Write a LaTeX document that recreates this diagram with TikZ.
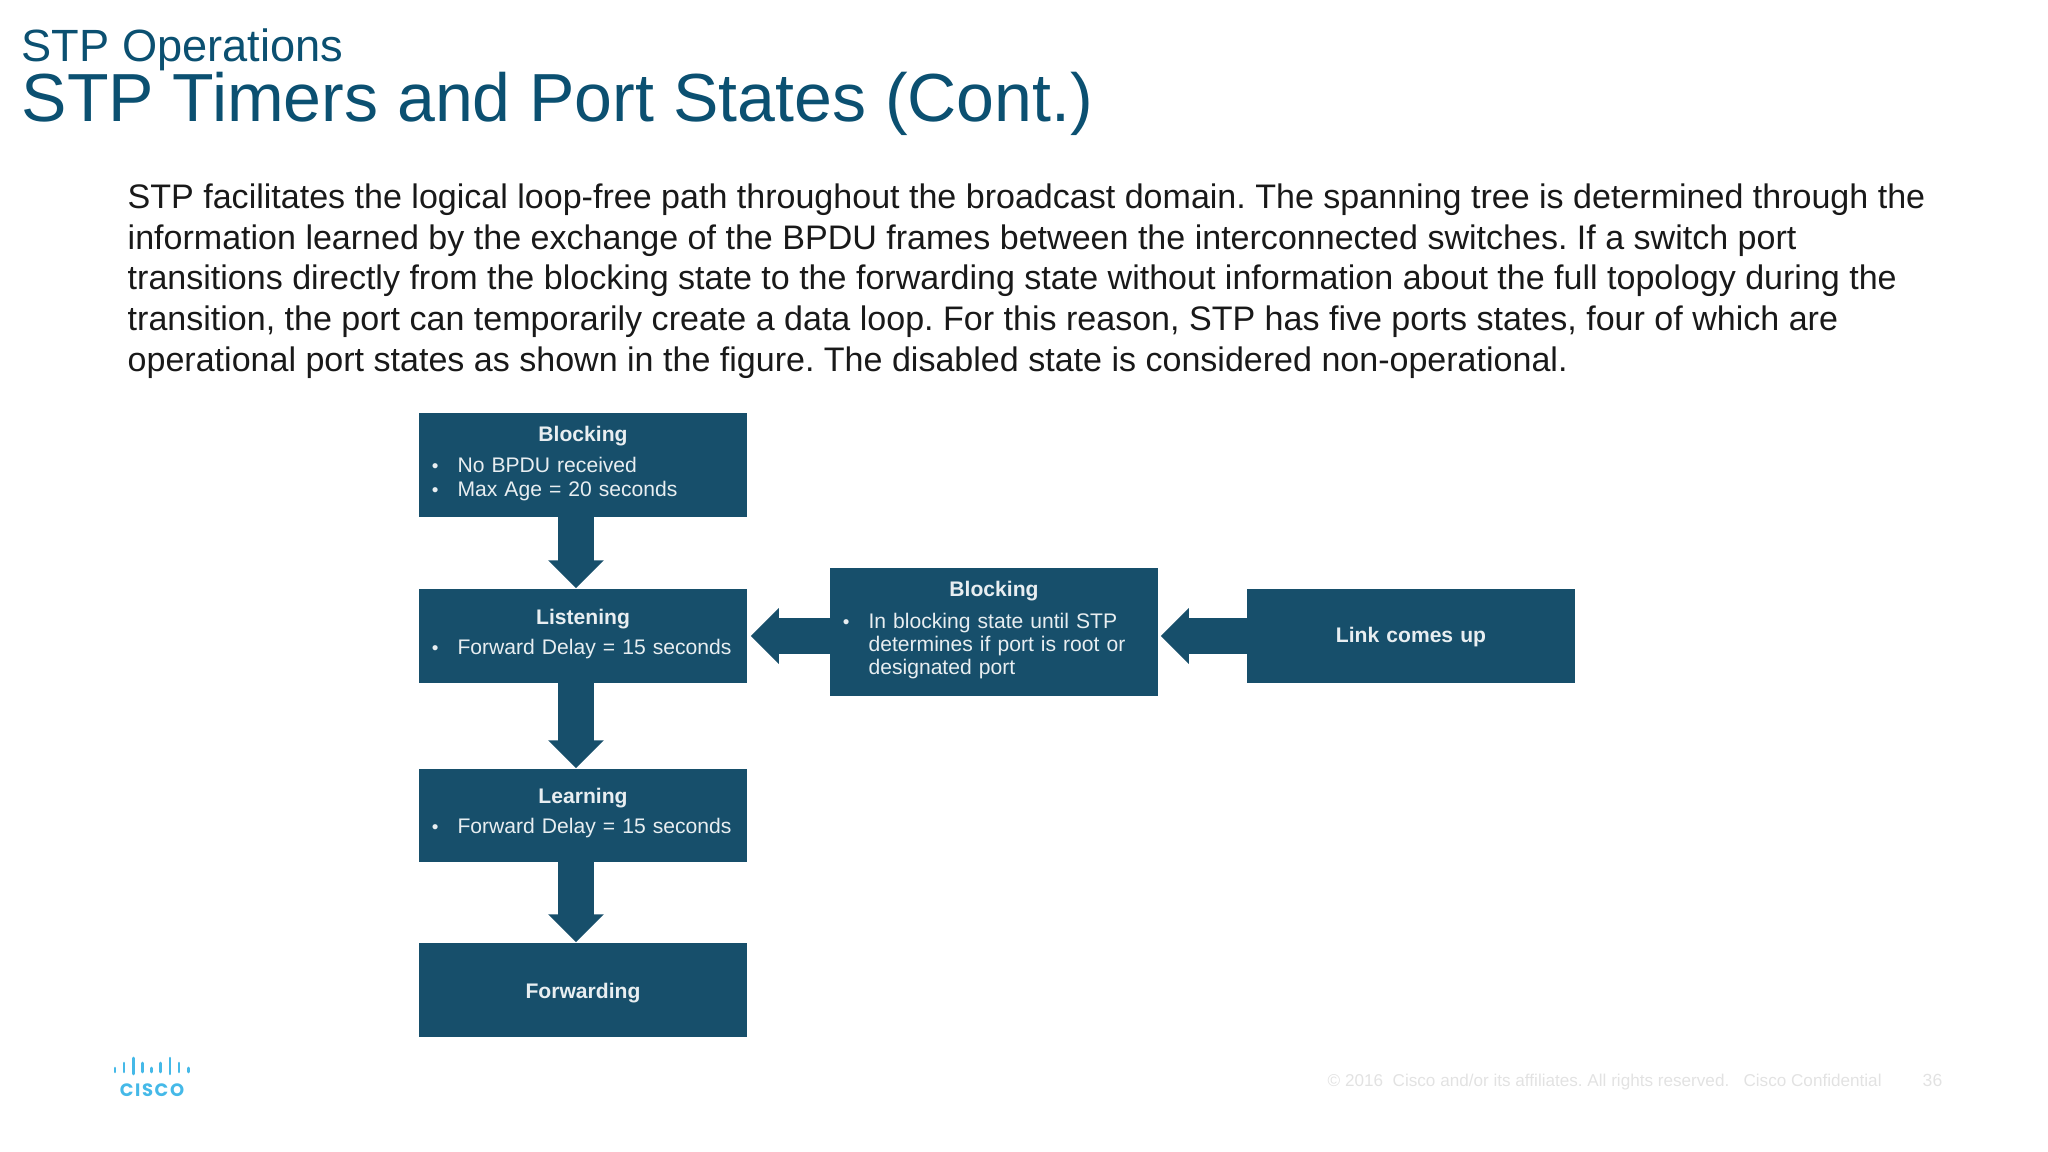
\documentclass[tikz,border=0pt]{standalone}
\usepackage{fontspec}
\usepackage{xcolor}
\usepackage{tikz}
\usetikzlibrary{arrows.meta}
\setmainfont{Liberation Sans}
\newfontfamily\logofont[LetterSpace=9]{Poppins}
\definecolor{boxc}{HTML}{174F6B}
\definecolor{headc}{HTML}{0B5071}
\definecolor{inkc}{HTML}{E8EEF1}
\definecolor{logoc}{HTML}{45B9E8}
\definecolor{footc}{HTML}{E2E2E2}
\newcommand{\sthead}[1]{\makebox[\linewidth]{\bfseries #1}}
\newcommand{\stitem}{\makebox[7.3pt][l]{\scalebox{0.9}{\textbullet}}}
\newcommand{\stcont}{\hspace*{7.3pt}}
\newcommand{\stdepth}[1]{\rule[-#1]{0pt}{0pt}}
\tikzset{
  statebox/.style={fill=boxc,text=inkc,inner sep=0pt,minimum width=3.28cm,text width=3.02cm,align=left,font=\fontsize{6}{6.8}\selectfont},
  flowar/.style={-{Triangle[length=2.8mm,width=5.4mm]},line width=3.6mm,boxc,shorten <=-0.02cm},
  logobar/.style={logoc,line width=0.75pt,line cap=round}
}
\begin{document}
\frenchspacing
\begin{tikzpicture}[x=0.01cm,y=-0.01cm]
\useasboundingbox (0,0) rectangle (2048,1152);
\node[anchor=base west,inner sep=0pt,text=headc,font=\fontsize{12.85}{14}\selectfont] (subtitle) at (21,62) {STP Operations};
\node[anchor=base west,inner sep=0pt,text=headc,font=\fontsize{19.35}{22}\selectfont] (title) at (21,122) {STP Timers and Port States (Cont.)};
\node[anchor=north west,inner sep=0pt,align=left,text=black!90,font=\fontsize{9.68}{11.6}\selectfont] (intro) at (127,183) {STP facilitates the logical loop-free path throughout the broadcast domain. The spanning tree is determined through the\\
information learned by the exchange of the BPDU frames between the interconnected switches. If a switch port\\
transitions directly from the blocking state to the forwarding state without information about the full topology during the\\
transition, the port can temporarily create a data loop. For this reason, STP has five ports states, four of which are\\
operational port states as shown in the figure. The disabled state is considered non-operational.};
\node[statebox,minimum height=1.04cm] (block) at (583,465) {\sthead{Blocking}\\[2pt]\stitem No BPDU received\\\stitem Max Age = 20 seconds\stdepth{2.05pt}};
\node[statebox,minimum height=0.94cm] (listen) at (583,636) {\sthead{Listening}\\[1.8pt]\stitem Forward Delay = 15 seconds\stdepth{2.5pt}};
\node[statebox,minimum height=0.93cm] (learn) at (583,815.5) {\sthead{Learning}\\[1.8pt]\stitem Forward Delay = 15 seconds\stdepth{2.5pt}};
\node[statebox,minimum height=0.94cm] (forward) at (583,990) {\sthead{\rule{0pt}{6pt}Forwarding}};
\node[statebox,minimum height=1.28cm] (wait) at (994,632) {\sthead{Blocking}\\[2.4pt]\stitem In blocking state until STP\\[-0.4pt]\stcont determines if port is root or\\[-0.2pt]\stcont designated port\stdepth{2.5pt}};
\node[statebox,minimum height=0.94cm] (link) at (1411,636) {\sthead{\rule{0pt}{5.2pt}Link comes up}};
\draw[flowar] ([xshift=-0.07cm]block.south) -- ([xshift=-0.07cm]listen.north);
\draw[flowar] ([xshift=-0.07cm]listen.south) -- ([xshift=-0.07cm]learn.north);
\draw[flowar] ([xshift=-0.07cm]learn.south) -- ([xshift=-0.07cm]forward.north);
\draw[flowar,shorten >=0.03cm] (wait.west |- listen.east) -- (listen.east);
\draw[flowar,shorten >=0.02cm] (link.west) -- (wait.east |- link.west);
\foreach \bx/\bt/\bb in {115/1068/1072,124/1063/1072,133.3/1058/1074,142.7/1063/1072,151.7/1068/1072,160.7/1063/1072,170/1058/1074,179/1063/1072,188.3/1068/1072}
  \draw[logobar] (\bx,\bt) -- (\bx,\bb);
\node[inner sep=0pt,text=logoc,font={\logofont\bfseries\fontsize{5.1}{6}\selectfont}] (logo) at (152,1090) {CISCO};
\node[anchor=base west,inner sep=0pt,text=footc,font=\fontsize{4.87}{6}\selectfont] (copy) at (1327,1086) {© 2016\ \ Cisco and/or its affiliates. All rights reserved.\ \ \ Cisco Confidential};
\node[anchor=base west,inner sep=0pt,text=footc,font=\fontsize{5}{6}\selectfont] (pageno) at (1922,1086) {36};
\end{tikzpicture}
\end{document}
